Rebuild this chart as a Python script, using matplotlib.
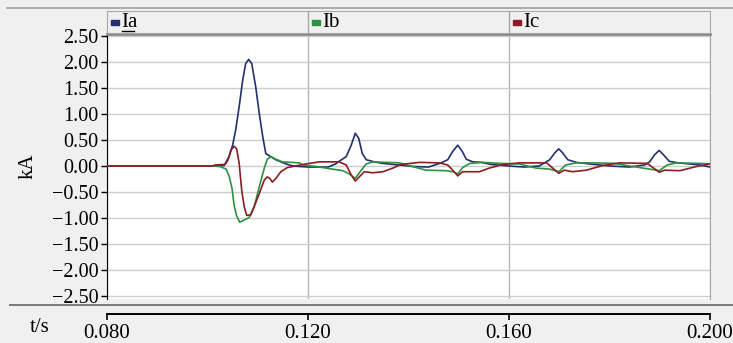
import numpy as np
import matplotlib
matplotlib.use("Agg")
import matplotlib.pyplot as plt
from matplotlib.lines import Line2D
from matplotlib.patches import Rectangle

plt.rcParams["font.family"] = ["Liberation Serif", "DejaVu Serif"]

# ── data (time in ms, current in kA) ────────────────────────────────────────
t_a = [80, 101, 103.3, 104.3, 105.0, 105.6, 106.3, 107.0, 107.6, 108.2, 108.8,
       109.6, 110.3, 111.0, 111.6, 112.6, 113.6, 115.6, 117.0, 120.0, 124.0,
       125.5, 126.2, 127.6, 128.6, 129.4, 130.1, 130.8, 131.6, 133.2, 134.9,
       138.0, 141.0, 144.0, 146.5, 147.8, 148.8, 149.8, 150.7, 151.5, 152.8,
       154.5, 156.4, 160.0, 163.0, 166.0, 168.1, 169.1, 169.9, 170.7, 171.7,
       173.4, 176.0, 180.0, 184.0, 187.0, 188.0, 189.0, 189.9, 190.7, 191.9,
       193.7, 198.0, 200.0]
i_a = [0.0, 0.0, 0.01, 0.18, 0.40, 0.69, 1.14, 1.65, 1.97, 2.05, 1.97,
       1.52, 1.01, 0.56, 0.24, 0.18, 0.12, 0.04, 0.00, -0.02, -0.02,
       0.04, 0.09, 0.18, 0.40, 0.63, 0.53, 0.24, 0.12, 0.08, 0.05,
       0.02, -0.01, -0.02, 0.06, 0.12, 0.28, 0.40, 0.28, 0.13, 0.08,
       0.07, 0.03, 0.00, -0.02, 0.00, 0.12, 0.25, 0.33, 0.25, 0.12,
       0.07, 0.04, 0.00, -0.02, 0.02, 0.08, 0.22, 0.30, 0.22, 0.09,
       0.06, 0.02, -0.02]

t_b = [80, 101, 102.5, 103.7, 104.3, 104.9, 105.3, 105.8, 106.4, 107.3, 108.3,
       109.3, 110.3, 111.3, 111.9, 112.6, 113.6, 114.9, 118.3, 119.0, 121.6,
       124.2, 126.9, 128.2, 129.4, 130.6, 131.6, 132.9, 135.5, 138.2, 140.8,
       143.5, 147.5, 148.8, 149.8, 150.8, 152.2, 154.8, 158.1, 162.0, 165.4,
       168.1, 169.9, 171.3, 173.4, 177.0, 181.0, 184.0, 188.0, 189.9, 191.5,
       193.3, 198.0, 200.0]
i_b = [0.0, 0.0, -0.01, -0.06, -0.19, -0.44, -0.76, -0.96, -1.08, -1.04, -0.99,
       -0.78, -0.40, -0.04, 0.13, 0.18, 0.13, 0.08, 0.06, 0.02, -0.01,
       -0.05, -0.09, -0.15, -0.24, -0.08, 0.04, 0.08, 0.07, 0.06, -0.01,
       -0.08, -0.09, -0.11, -0.15, -0.03, 0.05, 0.07, 0.05, 0.04, -0.04,
       -0.06, -0.11, 0.02, 0.06, 0.06, 0.05, 0.00, -0.06, -0.09, 0.02,
       0.06, 0.05, 0.04]

t_c = [80, 101, 101.5, 103.5, 104.0, 104.7, 105.3, 105.8, 106.3, 106.8, 107.3,
       107.8, 108.6, 109.3, 110.3, 111.3, 111.9, 112.4, 112.9, 113.6, 114.6,
       115.9, 119.6, 122.3, 126.2, 127.6, 128.6, 129.4, 130.2, 131.2, 132.9,
       134.9, 136.9, 138.5, 142.2, 146.1, 147.8, 148.8, 149.8, 150.8, 152.2,
       154.1, 156.1, 158.8, 162.1, 167.5, 168.7, 169.9, 171.0, 172.7, 175.4,
       178.7, 182.0, 187.5, 188.5, 189.9, 191.0, 194.0, 197.3, 200.0]
i_c = [0.0, 0.0, 0.02, 0.03, 0.10, 0.31, 0.38, 0.33, 0.05, -0.46, -0.78,
       -0.95, -0.94, -0.78, -0.53, -0.27, -0.21, -0.24, -0.31, -0.24, -0.11,
       -0.03, 0.04, 0.08, 0.08, 0.02, -0.17, -0.29, -0.21, -0.11, -0.13,
       -0.11, -0.04, 0.03, 0.07, 0.06, 0.02, -0.08, -0.19, -0.11, -0.11,
       -0.11, -0.04, 0.03, 0.06, 0.06, -0.04, -0.14, -0.08, -0.11, -0.08,
       0.01, 0.06, 0.05, -0.02, -0.12, -0.08, -0.09, -0.01, 0.04]

SERIES = ["Ia", "Ib", "Ic"]
COLORS = ["#22306b", "#2e9142", "#8c1d24"]
X_TICKS = [0.080, 0.120, 0.160, 0.200]
Y_TICKS = [2.5, 2.0, 1.5, 1.0, 0.5, 0.0, -0.5, -1.0, -1.5, -2.0, -2.5]

# ── figure / layout in pixels ────────────────────────────────────────────────
W, H = 733, 343
BG = "#f0f0f0"
fig = plt.figure(figsize=(W / 100, H / 100), dpi=100)
fig.patch.set_facecolor(BG)

L, R, TOP, BOT = 107, 710, 34, 299
ax = fig.add_axes([L / W, 1 - BOT / H, (R - L) / W, (BOT - TOP) / H])
ax.set_facecolor("white")

for t, v, col in zip([t_a, t_b, t_c], [i_a, i_b, i_c], COLORS):
    ax.plot(np.array(t) / 1000, v, color=col, lw=1.2, zorder=3)

ax.set_xlim(0.08, 0.20)
ax.set_ylim((166 - BOT) / 52, (166 - TOP) / 52)
ax.spines["bottom"].set_position(("outward", 10.8))
ax.set_xticks(X_TICKS)
ax.set_xticklabels([f"{x:.3f}" for x in X_TICKS])
ax.set_yticks(Y_TICKS)
ax.set_yticklabels([f"{y:.2f}".replace("-", "\u2212") for y in Y_TICKS])
ax.yaxis.grid(True, color="#cdcdcd", lw=1.0, zorder=1)
ax.xaxis.grid(True, color="#b5b5b5", lw=1.0, zorder=1)

ax.spines["left"].set_color("black")
ax.spines["top"].set_color("#8a8a8a")
ax.spines["top"].set_linewidth(2.0)
ax.spines["right"].set_color("#a8a8a8")
ax.spines["bottom"].set_linewidth(1.4)
ax.tick_params(axis="y", direction="out", length=4, width=1, pad=2, labelsize=14.5)
ax.tick_params(axis="x", direction="out", length=4, width=1.2, pad=3, labelsize=15)

# legend strip above the plot
lg = fig.add_axes([L / W, 1 - 33 / H, (R - L) / W, 22 / H])
lg.set_facecolor(BG)
lg.set_xlim(0.08, 0.20)
lg.set_ylim(0, 1)
lg.set_xticks([])
lg.set_yticks([])
for s in lg.spines.values():
    s.set_color("#a8a8a8")
for x in X_TICKS[1:3]:
    lg.axvline(x, color="#a8a8a8", lw=1.0)
for x0, name, col in zip(X_TICKS[:3], SERIES, COLORS):
    lg.add_patch(Rectangle((x0 + 0.0008, 0.36), 0.0016, 0.23, color=col))
    lg.text(x0 + 0.0029, 0.47, name, fontsize=15, va="center", ha="left")
lg.plot([0.0829, 0.0853], [0.1, 0.1], color="black", lw=1.0)

# frame lines, axis captions
fig.add_artist(Line2D([7 / W, 1], [1 - 8 / H] * 2, color="#a0a0a0", lw=1.2))
fig.add_artist(Line2D([10 / W, 1], [1 - 305 / H] * 2, color="#7a7a7a", lw=1.4))
fig.text(28 / W, 1 - 166 / H, "kA", rotation=90, fontsize=15, ha="center", va="center")
fig.text(40 / W, 1 - 328 / H, "t/s", fontsize=15, ha="center", va="center")

fig.savefig("out.png", dpi=100, facecolor=BG)
